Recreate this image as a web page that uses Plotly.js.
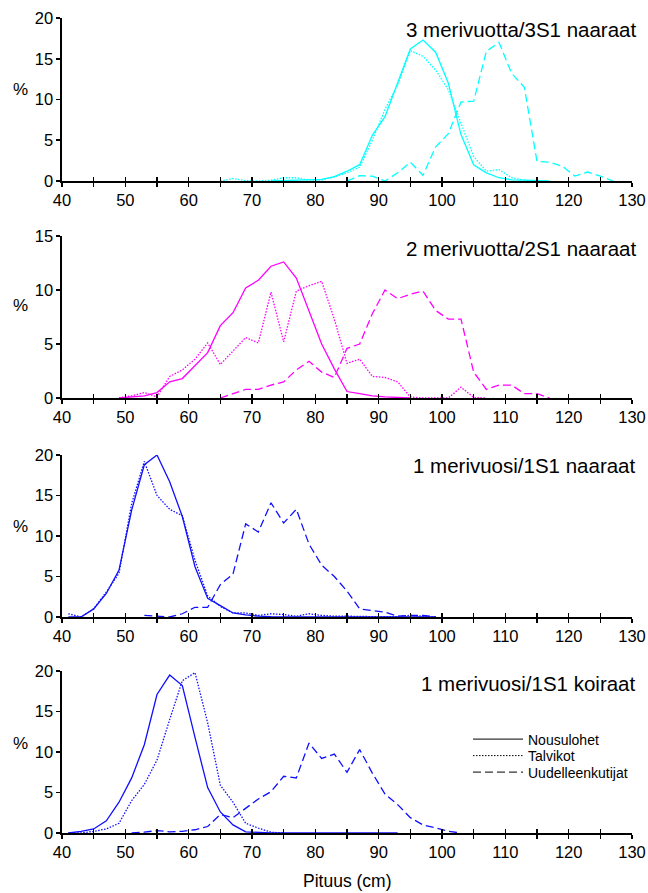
<!DOCTYPE html>
<html>
<head>
<meta charset="utf-8">
<script src="https://cdn.plot.ly/plotly-3.0.1.min.js"></script>
<style>html,body{margin:0;padding:0;background:#fff;}</style>
</head>
<body>
<div id="chart" style="width:648px;height:893px;"></div>
<script>
// ---------- DATA ----------
const seriesNames = ["Nousulohet", "Talvikot", "Uudelleenkutijat"];
const panelTitles = ["3 merivuotta/3S1 naaraat", "2 merivuotta/2S1 naaraat", "1 merivuosi/1S1 naaraat", "1 merivuosi/1S1 koiraat"];
const xTitle = "Pituus (cm)";
const yLabel = "%";
const xTickVals = [40,45,50,55,60,65,70,75,80,85,90,95,100,105,110,115,120,125,130];
const xTickText = ["40","","50","","60","","70","","80","","90","","100","","110","","120","","130"];
const yTicks20 = [0,5,10,15,20];
const yTicks15 = [0,5,10,15];

// Panel 1: 3 merivuotta/3S1 naaraat (cyan)
const p1SolidX  = [73,75,77,79,81,83,85,87,89,91,93,95,97,99,101,103,105,107,109,111,113,115,117];
const p1SolidY  = [0,0.05,0.1,0.1,0.2,0.55,1.2,2.0,5.6,7.9,12.0,16.2,17.3,15.8,12.0,5.7,2.0,1.0,0.4,0.15,0.1,0.05,0];
const p1DotX    = [65,67,69,71,73,75,77,79,81,83,85,87,89,91,93,95,97,99,101,103,105,107,109,111,113,115];
const p1DotY    = [0,0.3,0.05,0,0.1,0.4,0.4,0.1,0.1,0.5,1.0,1.7,5.0,8.8,11.8,16.0,15.3,13.6,11.2,7.2,3.0,1.2,1.4,0.4,0.1,0];
const p1DashX   = [85,87,89,91,93,95,97,99,101,103,105,107,109,111,113,115,117,119,121,123,125,127];
const p1DashY   = [0,0.65,0.6,0,1.0,2.3,0.7,4.2,5.8,9.7,9.8,15.9,17.0,13.2,11.5,2.4,2.3,1.8,0.6,1.1,0.6,0];

// Panel 2: 2 merivuotta/2S1 naaraat (magenta)
const p2SolidX  = [49,51,53,55,57,59,61,63,65,67,69,71,73,75,77,79,81,83,85,87,89,91,93,95];
const p2SolidY  = [0,0.1,0.2,0.5,1.5,1.8,3.0,4.2,6.7,7.9,10.2,10.9,12.2,12.6,11.1,8.0,5.0,2.7,0.6,0.4,0.2,0.1,0.05,0];
const p2DotX    = [49,51,53,55,57,59,61,63,65,67,69,71,73,75,77,79,81,83,85,87,89,91,93,95,97,99,101,103,105,107];
const p2DotY    = [0,0.2,0.5,0.1,2.0,2.6,3.6,5.1,3.1,4.4,5.6,5.1,9.8,5.2,9.9,10.4,10.8,7.3,3.2,3.6,2.0,1.9,1.5,0.1,0,0,0,1.0,0.05,0];
const p2DashX   = [65,67,69,71,73,75,77,79,81,83,85,87,89,91,93,95,97,99,101,103,105,107,109,111,113,115,117];
const p2DashY   = [0,0.4,0.8,0.8,1.2,1.5,2.6,3.4,2.4,1.9,4.6,5.0,7.8,10.0,9.2,9.6,9.9,8.1,7.3,7.3,2.4,0.8,1.2,1.2,0.4,0.4,0];

// Panel 3: 1 merivuosi/1S1 naaraat (blue)
const p3SolidX  = [41,43,45,47,49,51,53,55,57,59,61,63,65,67,69,71,73,75,77,79,81,83,85,87,89,91,93,95,97,99];
const p3SolidY  = [0,0,1.0,2.9,5.8,13.2,18.8,20.0,16.7,12.4,6.2,2.3,1.4,0.5,0.25,0.1,0.05,0.05,0.05,0.05,0.05,0.05,0.05,0.05,0.05,0.05,0.05,0.05,0.05,0];
const p3DotX    = [41,43,45,47,49,51,53,55,57,59,61,63,65,67,69,71,73,75,77,79,81,83,85,87,89,91,93,95,97,99];
const p3DotY    = [0.4,0,1.0,3.1,5.4,14.0,19.2,15.0,13.3,12.5,7.0,2.6,1.3,0.5,0.5,0.2,0.4,0.3,0.1,0.4,0.2,0.1,0.1,0.05,0.05,0.05,0.05,0.2,0.1,0];
const p3DashX   = [53,55,57,59,61,63,65,67,69,71,73,75,77,79,81,83,85,87,89,91,93,95,97,99];
const p3DashY   = [0.2,0.1,0,0.4,1.2,1.2,4.0,5.3,11.5,10.5,14.1,11.6,13.3,9.0,6.4,5.0,3.2,1.0,0.8,0.6,0.1,0.2,0.2,0];

// Panel 4: 1 merivuosi/1S1 koiraat (blue)
const p4SolidX  = [41,43,45,47,49,51,53,55,57,59,61,63,65,67,69,71,73,75,77,79,81,83,85,87,89,91,93];
const p4SolidY  = [0,0.2,0.5,1.5,3.8,6.8,10.9,17.1,19.5,18.2,11.8,5.6,2.6,1.0,0.15,0.05,0,0,0,0,0,0,0,0,0,0,0];
const p4DotX    = [41,43,45,47,49,51,53,55,57,59,61,63,65,67,69,71,73,75];
const p4DotY    = [0,0,0.2,0.5,1.2,4.0,6.0,9.0,14.0,18.8,19.8,13.6,5.9,3.8,1.2,0.6,0.1,0];
const p4DashX   = [51,53,55,57,59,61,63,65,67,69,71,73,75,77,79,81,83,85,87,89,91,93,95,97,99,101,103];
const p4DashY   = [0,0.1,0.3,0.15,0.2,0.4,0.8,2.3,1.9,3.1,4.2,5.1,7.0,6.8,11.1,9.2,9.75,7.5,10.3,7.4,4.8,3.5,1.9,1.0,0.65,0.2,0];

const panelColors = ["#00FFFF", "#FF00FF", "#1010FF", "#1010FF"];

// ---------- STYLE ----------
const FONT = "Liberation Sans, Arial, Helvetica, sans-serif";
const LW = 1.3;
const AXW = 1.6;
const DASHES = ["solid", "1.5px,1.5px", "8px,4px"];

const panels = [
  {sx:p1SolidX, sy:p1SolidY, dx:p1DotX, dy:p1DotY, ex:p1DashX, ey:p1DashY, yr:[0,20], yt:yTicks20},
  {sx:p2SolidX, sy:p2SolidY, dx:p2DotX, dy:p2DotY, ex:p2DashX, ey:p2DashY, yr:[0,15], yt:yTicks15},
  {sx:p3SolidX, sy:p3SolidY, dx:p3DotX, dy:p3DotY, ex:p3DashX, ey:p3DashY, yr:[0,20], yt:yTicks20},
  {sx:p4SolidX, sy:p4SolidY, dx:p4DotX, dy:p4DotY, ex:p4DashX, ey:p4DashY, yr:[0,20], yt:yTicks20}
];

// pixel geometry of the reference: plot area x 62..632, y 18..833
const H = 893, T = 18, B = 60, PH = H - T - B, L = 62, PW = 570;
const toPaper = py => (H - B - py) / PH;
const toPaperX = px => (px - L) / PW;
const domains = [[181,18],[398,236],[617,455],[833,671]].map(([b,t]) => [toPaper(b), toPaper(t)]);
const titleY = [29, 248, 466, 683];
const pctY = [89, 306, 526, 743];
const legendTops = [723.5, 740, 756.5];

const traces = [];
const layout = {
  width: 648, height: 893,
  margin: {l: L, r: 16, t: T, b: B},
  paper_bgcolor: "#ffffff", plot_bgcolor: "#ffffff",
  font: {family: FONT, color: "#000000"},
  showlegend: true,
  annotations: [],
  hovermode: false
};
["legend", "legend2", "legend3"].forEach((lk, k) => {
  layout[lk] = {
    x: toPaperX(468), y: toPaper(legendTops[k]), xanchor: "left", yanchor: "top",
    font: {family: FONT, size: 14, color: "#000"}, itemwidth: 50,
    bgcolor: "rgba(0,0,0,0)", borderwidth: 0
  };
});

panels.forEach((p, i) => {
  const n = i + 1;
  const xa = "x" + (n === 1 ? "" : n), ya = "y" + (n === 1 ? "" : n);
  const ov = "x" + (n + 4);
  const col = panelColors[i];
  [[p.sx, p.sy, 0], [p.dx, p.dy, 1], [p.ex, p.ey, 2]].forEach(([xs, ys, k]) => {
    traces.push({x: xs, y: ys, type: "scatter", mode: "lines", xaxis: xa, yaxis: ya,
      line: {color: col, width: LW, dash: DASHES[k]}, showlegend: false, hoverinfo: "skip"});
  });
  // helper trace for the overlaying tick axis (ticks crossing the axis line)
  traces.push({x: [null], y: [null], type: "scatter", mode: "lines", xaxis: ov, yaxis: ya,
    showlegend: false, hoverinfo: "skip"});

  const xKey = "xaxis" + (n === 1 ? "" : n), yKey = "yaxis" + (n === 1 ? "" : n);
  layout[xKey] = {
    domain: [0, 1], anchor: ya, range: [40, 130], fixedrange: true,
    tickmode: "array", tickvals: xTickVals, ticktext: xTickText,
    ticks: "outside", ticklen: 4, tickwidth: AXW, tickcolor: "#000",
    showline: true, linecolor: "#000", linewidth: AXW,
    showgrid: false, zeroline: false,
    tickfont: {family: FONT, size: 16.5, color: "#000"}
  };
  layout["xaxis" + (n + 4)] = {
    overlaying: xa, anchor: ya, range: [40, 130], fixedrange: true,
    tickmode: "array", tickvals: xTickVals, ticks: "inside", ticklen: 4, tickwidth: AXW,
    tickcolor: "#000", showticklabels: false, showline: false, showgrid: false, zeroline: false
  };
  layout[yKey] = {
    domain: domains[i], anchor: xa, range: p.yr, fixedrange: true,
    tickmode: "array", tickvals: p.yt,
    ticks: "outside", ticklen: 4, tickwidth: AXW, tickcolor: "#000",
    showline: true, linecolor: "#000", linewidth: AXW,
    showgrid: false, zeroline: false,
    tickfont: {family: FONT, size: 16.5, color: "#000"}
  };
  layout.annotations.push({
    text: panelTitles[i], xref: "paper", yref: "paper", x: toPaperX(638), y: toPaper(titleY[i]),
    xanchor: "right", yanchor: "middle", showarrow: false,
    font: {family: FONT, size: 20.5, color: "#000"}
  });
  layout.annotations.push({
    text: yLabel, xref: "paper", yref: "paper", x: toPaperX(20), y: toPaper(pctY[i]),
    xanchor: "center", yanchor: "middle", showarrow: false,
    font: {family: FONT, size: 17, color: "#000"}
  });
});

// legend entries (black keys), one small legend per row
seriesNames.forEach((nm, k) => {
  traces.push({x: [null], y: [null], type: "scatter", mode: "lines", xaxis: "x4", yaxis: "y4",
    name: nm, legend: k === 0 ? "legend" : "legend" + (k + 1),
    line: {color: "#000", width: 1, dash: DASHES[k]}, showlegend: true, hoverinfo: "skip"});
});

layout.annotations.push({
  text: xTitle, xref: "paper", yref: "paper", x: 0.5, y: toPaper(881),
  xanchor: "center", yanchor: "middle", showarrow: false,
  font: {family: FONT, size: 17.5, color: "#000"}
});

Plotly.newPlot("chart", traces, layout, {staticPlot: true, displayModeBar: false});
</script>
</body>
</html>
